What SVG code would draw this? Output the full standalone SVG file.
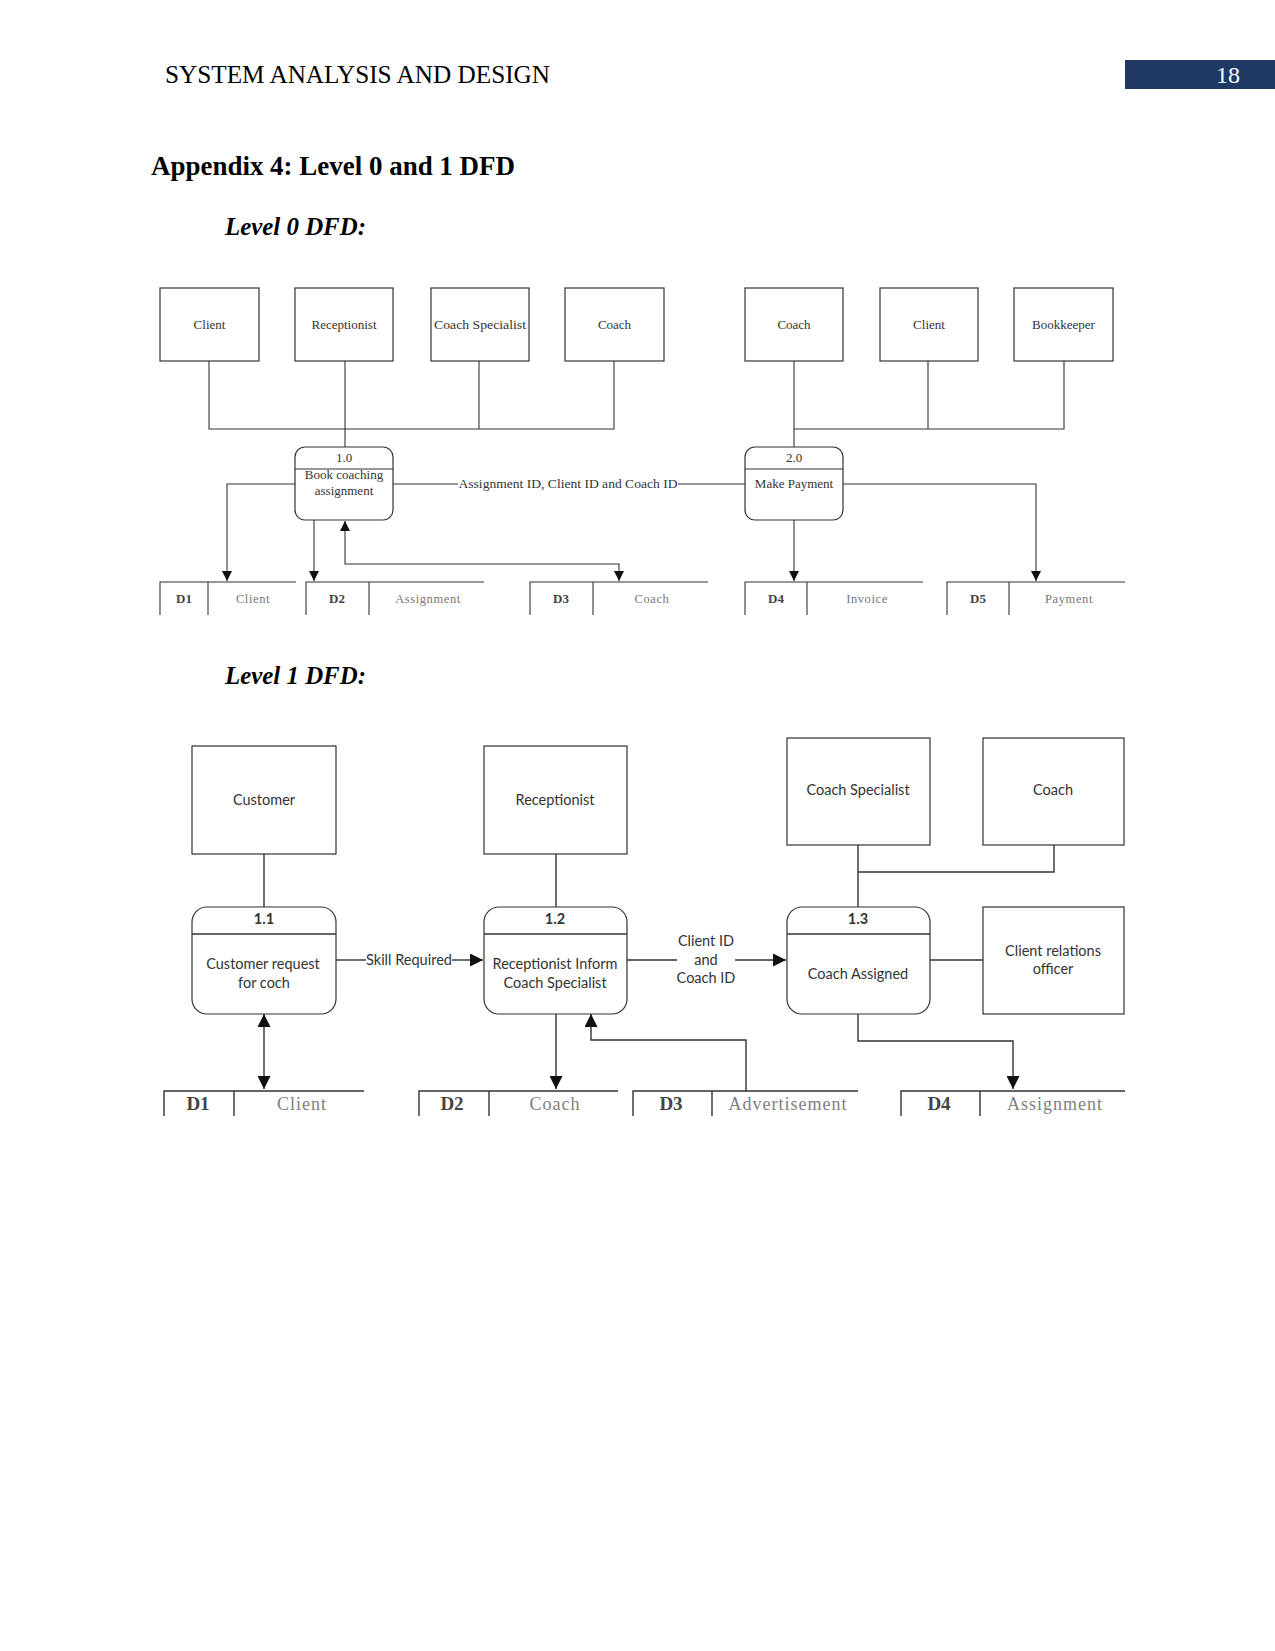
<svg xmlns="http://www.w3.org/2000/svg" width="1275" height="1651" viewBox="0 0 1275 1651">
<style>
.bg{fill:#ffffff}
.hdr{font-family:"Liberation Serif",serif;font-size:25px;fill:#000}
.h1{font-family:"Liberation Serif",serif;font-size:27px;font-weight:bold;fill:#000}
.h2{font-family:"Liberation Serif",serif;font-size:25px;font-weight:bold;font-style:italic;fill:#000}
.box{fill:#fff;stroke:#333;stroke-width:1.2}
.ln{fill:none;stroke:#333;stroke-width:1.1}
.ln1{fill:none;stroke:#333;stroke-width:1.4}
.t0{font-family:"Liberation Serif",serif;font-size:13px;fill:#333;text-anchor:middle}
.sid0{font-family:"Liberation Serif",serif;font-size:13px;font-weight:bold;fill:#444;text-anchor:middle}
.sn0{font-family:"Liberation Serif",serif;font-size:12.5px;fill:#777;text-anchor:middle;letter-spacing:0.6px}
.t1{font-family:Lato,"Open Sans",sans-serif;font-size:14.5px;fill:#333;text-anchor:middle}
.sid1{font-family:"Liberation Serif",serif;font-size:19px;font-weight:bold;fill:#444;text-anchor:middle}
.sn1{font-family:"Liberation Serif",serif;font-size:18px;fill:#808080;text-anchor:middle;letter-spacing:1px}
</style>
<defs>
<marker id="a0" viewBox="0 0 10 10" refX="10" refY="5" markerWidth="12" markerHeight="10" markerUnits="userSpaceOnUse" orient="auto-start-reverse"><path d="M0,0 L10,5 L0,10 Z" fill="#111"/></marker>
<marker id="a1" viewBox="0 0 10 10" refX="10" refY="5" markerWidth="18" markerHeight="13" markerUnits="userSpaceOnUse" orient="auto-start-reverse"><path d="M0,0 L10,5 L0,10 Z" fill="#111"/></marker>
</defs>
<rect class="bg" x="0" y="0" width="1275" height="1651"/>

<g id="header">
<text class="hdr" x="165" y="83" textLength="385" lengthAdjust="spacingAndGlyphs">SYSTEM ANALYSIS AND DESIGN</text>
<rect x="1125" y="60" width="150" height="29" fill="#1F3864"/>
<text x="1228" y="83" font-family="Liberation Serif,serif" font-size="24" fill="#fff" text-anchor="middle">18</text>
<text class="h1" x="151" y="175" textLength="364" lengthAdjust="spacingAndGlyphs">Appendix 4: Level 0 and 1 DFD</text>
<text class="h2" x="225" y="235" textLength="141" lengthAdjust="spacingAndGlyphs">Level 0 DFD:</text>
<text class="h2" x="225" y="684" textLength="141" lengthAdjust="spacingAndGlyphs">Level 1 DFD:</text>
</g>

<!-- ===== Level 0 ===== -->
<g id="connectors-level0">
<polyline class="ln" points="209,361 209,429 614,429 614,361"/>
<line class="ln" x1="479" y1="361" x2="479" y2="429"/>
<line class="ln" x1="345" y1="361" x2="345" y2="447"/>
<polyline class="ln" points="928,361 928,429"/>
<polyline class="ln" points="794,361 794,447"/>
<polyline class="ln" points="794,429 1064,429 1064,361"/>
<polyline class="ln" points="295,484 227,484 227,581" marker-end="url(#a0)"/>
<line class="ln" x1="314" y1="520" x2="314" y2="581" marker-end="url(#a0)"/>
<polyline class="ln" points="345,521 345,564 619,564 619,581" marker-start="url(#a0)" marker-end="url(#a0)"/>
<line class="ln" x1="393" y1="484" x2="458" y2="484"/>
<line class="ln" x1="678" y1="484" x2="745" y2="484"/>
<text class="t0" x="568" y="488" textLength="219" lengthAdjust="spacingAndGlyphs">Assignment ID, Client ID and Coach ID</text>
<line class="ln" x1="794" y1="520" x2="794" y2="581" marker-end="url(#a0)"/>
<polyline class="ln" points="843,484 1036,484 1036,581" marker-end="url(#a0)"/>
</g>

<g id="e0-client"><rect class="box" x="160" y="288" width="99" height="73"/><text class="t0" x="209.5" y="329">Client</text></g>
<g id="e0-receptionist"><rect class="box" x="295" y="288" width="98" height="73"/><text class="t0" x="344" y="329">Receptionist</text></g>
<g id="e0-coachspec"><rect class="box" x="431" y="288" width="98" height="73"/><text class="t0" x="480" y="329" textLength="92" lengthAdjust="spacingAndGlyphs">Coach Specialist</text></g>
<g id="e0-coach"><rect class="box" x="565" y="288" width="99" height="73"/><text class="t0" x="614.5" y="329">Coach</text></g>
<g id="e0-coach2"><rect class="box" x="745" y="288" width="98" height="73"/><text class="t0" x="794" y="329">Coach</text></g>
<g id="e0-client2"><rect class="box" x="880" y="288" width="98" height="73"/><text class="t0" x="929" y="329">Client</text></g>
<g id="e0-bookkeeper"><rect class="box" x="1014" y="288" width="99" height="73"/><text class="t0" x="1063.5" y="329">Bookkeeper</text></g>

<g id="p0-1">
<rect class="box" x="295" y="447" width="98" height="73" rx="10"/>
<line class="ln" x1="295" y1="469" x2="393" y2="469"/>
<text class="t0" x="344" y="462">1.0</text>
<text class="t0" x="344" y="479">Book coaching</text>
<text class="t0" x="344" y="495">assignment</text>
</g>
<g id="p0-2">
<rect class="box" x="745" y="447" width="98" height="73" rx="10"/>
<line class="ln" x1="745" y1="469" x2="843" y2="469"/>
<text class="t0" x="794" y="462">2.0</text>
<text class="t0" x="794" y="488">Make Payment</text>
</g>

<g id="s0-d1"><polyline class="ln" points="160,615 160,582 296,582"/><line class="ln" x1="208" y1="582" x2="208" y2="615"/><text class="sid0" x="184" y="603">D1</text><text class="sn0" x="253" y="603">Client</text></g>
<g id="s0-d2"><polyline class="ln" points="306,615 306,582 484,582"/><line class="ln" x1="369" y1="582" x2="369" y2="615"/><text class="sid0" x="337" y="603">D2</text><text class="sn0" x="428" y="603">Assignment</text></g>
<g id="s0-d3"><polyline class="ln" points="530,615 530,582 708,582"/><line class="ln" x1="593" y1="582" x2="593" y2="615"/><text class="sid0" x="561" y="603">D3</text><text class="sn0" x="652" y="603">Coach</text></g>
<g id="s0-d4"><polyline class="ln" points="745,615 745,582 923,582"/><line class="ln" x1="807" y1="582" x2="807" y2="615"/><text class="sid0" x="776" y="603">D4</text><text class="sn0" x="867" y="603">Invoice</text></g>
<g id="s0-d5"><polyline class="ln" points="947,615 947,582 1125,582"/><line class="ln" x1="1009" y1="582" x2="1009" y2="615"/><text class="sid0" x="978" y="603">D5</text><text class="sn0" x="1069" y="603">Payment</text></g>

<!-- ===== Level 1 ===== -->
<g id="connectors-level1">
<line class="ln1" x1="264" y1="854" x2="264" y2="907"/>
<line class="ln1" x1="556" y1="854" x2="556" y2="907"/>
<line class="ln1" x1="858" y1="845" x2="858" y2="907"/>
<polyline class="ln1" points="858,872 1054,872 1054,845"/>
<line class="ln1" x1="336" y1="960" x2="366" y2="960"/>
<text class="t1" x="409" y="965" textLength="86" lengthAdjust="spacingAndGlyphs">Skill Required</text>
<line class="ln1" x1="452" y1="960" x2="483" y2="960" marker-end="url(#a1)"/>
<line class="ln1" x1="627" y1="960" x2="677" y2="960"/>
<line class="ln1" x1="735" y1="960" x2="786" y2="960" marker-end="url(#a1)"/>
<text class="t1" x="706" y="946">Client ID</text>
<text class="t1" x="706" y="965">and</text>
<text class="t1" x="706" y="983">Coach ID</text>
<line class="ln1" x1="930" y1="960" x2="983" y2="960"/>
<line class="ln1" x1="264" y1="1014" x2="264" y2="1089" marker-start="url(#a1)" marker-end="url(#a1)"/>
<line class="ln1" x1="556" y1="1014" x2="556" y2="1089" marker-end="url(#a1)"/>
<polyline class="ln1" points="591,1014 591,1040 746,1040 746,1091" marker-start="url(#a1)"/>
<polyline class="ln1" points="858,1014 858,1041 1013,1041 1013,1089" marker-end="url(#a1)"/>
</g>

<g id="e1-customer"><rect class="box" x="192" y="746" width="144" height="108"/><text class="t1" x="264" y="805">Customer</text></g>
<g id="e1-receptionist"><rect class="box" x="484" y="746" width="143" height="108"/><text class="t1" x="555" y="805">Receptionist</text></g>
<g id="e1-coachspec"><rect class="box" x="787" y="738" width="143" height="107"/><text class="t1" x="858" y="795">Coach Specialist</text></g>
<g id="e1-coach"><rect class="box" x="983" y="738" width="141" height="107"/><text class="t1" x="1053" y="795">Coach</text></g>
<g id="e1-cro"><rect class="box" x="983" y="907" width="141" height="107"/><text class="t1" x="1053" y="956">Client relations</text><text class="t1" x="1053" y="974">officer</text></g>

<g id="p1-1">
<rect class="box" x="192" y="907" width="144" height="107" rx="15"/>
<line class="ln1" x1="192" y1="934" x2="336" y2="934"/>
<text class="t1" x="264" y="924" font-weight="bold">1.1</text>
<text class="t1" x="263" y="969">Customer request</text>
<text class="t1" x="264" y="988">for coch</text>
</g>
<g id="p1-2">
<rect class="box" x="484" y="907" width="143" height="107" rx="15"/>
<line class="ln1" x1="484" y1="934" x2="627" y2="934"/>
<text class="t1" x="555" y="924" font-weight="bold">1.2</text>
<text class="t1" x="555" y="969">Receptionist Inform</text>
<text class="t1" x="555" y="988">Coach Specialist</text>
</g>
<g id="p1-3">
<rect class="box" x="787" y="907" width="143" height="107" rx="15"/>
<line class="ln1" x1="787" y1="934" x2="930" y2="934"/>
<text class="t1" x="858" y="924" font-weight="bold">1.3</text>
<text class="t1" x="858" y="979">Coach Assigned</text>
</g>

<g id="s1-d1"><polyline class="ln1" points="164,1116 164,1091 364,1091"/><line class="ln1" x1="234" y1="1091" x2="234" y2="1116"/><text class="sid1" x="198" y="1110">D1</text><text class="sn1" x="302" y="1110">Client</text></g>
<g id="s1-d2"><polyline class="ln1" points="419,1116 419,1091 618,1091"/><line class="ln1" x1="489" y1="1091" x2="489" y2="1116"/><text class="sid1" x="452" y="1110">D2</text><text class="sn1" x="555" y="1110">Coach</text></g>
<g id="s1-d3"><polyline class="ln1" points="633,1116 633,1091 858,1091"/><line class="ln1" x1="712" y1="1091" x2="712" y2="1116"/><text class="sid1" x="671" y="1110">D3</text><text class="sn1" x="788" y="1110">Advertisement</text></g>
<g id="s1-d4"><polyline class="ln1" points="901,1116 901,1091 1125,1091"/><line class="ln1" x1="980" y1="1091" x2="980" y2="1116"/><text class="sid1" x="939" y="1110">D4</text><text class="sn1" x="1055" y="1110">Assignment</text></g>
</svg>
